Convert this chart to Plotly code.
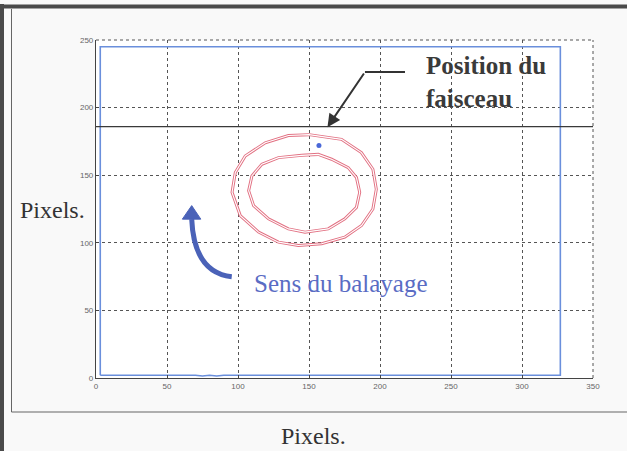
import plotly.graph_objects as go

# ---------------- data ----------------
scan_x = [3, 3, 327, 327, 90, 85, 80, 75, 70, 3]
scan_y = [2, 245, 245, 2, 2, 1.5, 2, 1.5, 2, 2]

beam_y = 186

outer_x = [150, 172.9, 186.9, 195, 197.4, 195, 187, 175.2, 158.9, 142.5, 128.5, 114.5, 101.6, 95.8, 98.1, 105.1, 119.2, 135.5, 150]
outer_y = [180, 176.5, 166.7, 154.4, 139.7, 125, 112.8, 104.2, 99.3, 98, 100.5, 107.9, 120.1, 137.3, 152, 164.2, 174, 179.4, 180]

inner_x = [144.9, 156.5, 165.9, 177.6, 183.4, 185.7, 183.4, 175.2, 163.5, 147.2, 135.5, 121.5, 111, 107.5, 109.8, 116.8, 128.5, 144.9]
inner_y = [164.7, 165.4, 161.8, 155.6, 148.3, 137.3, 126.2, 117.7, 110.3, 107.9, 110.3, 117.7, 127.5, 138.5, 149.5, 158.1, 163, 164.7]

dot_x = [157]
dot_y = [172]

x_ticks = [0, 50, 100, 150, 200, 250, 300, 350]
y_ticks = [0, 50, 100, 150, 200, 250]

# ---------------- layout constants ----------------
W, H = 627, 451
ML, MR, MT, MB = 96, 34, 40, 73
PW, PH = W - ML - MR, H - MT - MB


def px(xp):
    return (xp - ML) / PW


def py(yp):
    return (H - MB - yp) / PH


fig = go.Figure()

red = "#e27082"
for cx, cy in [(outer_x, outer_y), (inner_x, inner_y)]:
    fig.add_trace(go.Scatter(x=cx, y=cy, mode="lines",
                             line=dict(color=red, width=3.0), hoverinfo="skip"))
    fig.add_trace(go.Scatter(x=cx, y=cy, mode="lines",
                             line=dict(color="white", width=1.1), hoverinfo="skip"))

fig.add_trace(go.Scatter(x=scan_x, y=scan_y, mode="lines",
                         line=dict(color="#6a8fdc", width=1.6), hoverinfo="skip"))
fig.add_trace(go.Scatter(x=[0, 350], y=[beam_y, beam_y], mode="lines",
                         line=dict(color="#3a3a3a", width=1.3), hoverinfo="skip"))
fig.add_trace(go.Scatter(x=dot_x, y=dot_y, mode="markers",
                         marker=dict(color="#4a68d8", size=5), hoverinfo="skip"))

grid_line = dict(color="#555555", width=1, dash="3px,3px")

shapes = []
# dashed grid lines on the top and right edges of the plot area
shapes.append(dict(type="line", xref="paper", yref="paper", x0=0, x1=1, y0=1, y1=1, line=grid_line, layer="below"))
shapes.append(dict(type="line", xref="paper", yref="paper", x0=1, x1=1, y0=0, y1=1, line=grid_line, layer="below"))
# outer frame decorations
shapes.append(dict(type="line", xref="paper", yref="paper", x0=px(2), x1=px(2), y0=py(451), y1=py(4),
                   line=dict(color="#4a4a4a", width=4)))
shapes.append(dict(type="line", xref="paper", yref="paper", x0=px(0), x1=px(627), y0=py(6.5), y1=py(6.5),
                   line=dict(color="#4a4a4a", width=4)))
shapes.append(dict(type="line", xref="paper", yref="paper", x0=px(11.5), x1=px(11.5), y0=py(412), y1=py(9),
                   line=dict(color="#666666", width=1)))
shapes.append(dict(type="line", xref="paper", yref="paper", x0=px(11.5), x1=px(627), y0=py(412), y1=py(412),
                   line=dict(color="#666666", width=1.2)))
# horizontal part of the "Position du faisceau" leader
shapes.append(dict(type="line", xref="x", yref="y", x0=189.4, x1=217.6, y0=226.3, y1=226.3,
                   line=dict(color="#333333", width=2)))
# curved "Sens du balayage" arrow
shapes.append(dict(type="path", xref="x", yref="y",
                   path="M 95.6,74.9 Q 69,78 67.4,117.5",
                   line=dict(color="#4a62b8", width=5)))
shapes.append(dict(type="path", xref="x", yref="y",
                   path="M 60.8,117.5 L 67.4,127.5 L 73.8,117.5 Z",
                   fillcolor="#4a62b8", line=dict(color="#4a62b8", width=1)))

annotations = [
    dict(x=163, y=185.5, xref="x", yref="y", ax=189.4, ay=226.3, axref="x", ayref="y",
         showarrow=True, arrowhead=2, arrowsize=1.3, arrowwidth=2, arrowcolor="#333333", text=""),
    dict(x=px(424), y=py(82), xref="paper", yref="paper", xanchor="left", yanchor="middle",
         text="<b>Position du</b><br><b>faisceau</b>", align="left", showarrow=False,
         font=dict(family="Liberation Serif", size=25, color="#3a3a3a")),
    dict(x=px(252), y=py(283), xref="paper", yref="paper", xanchor="left", yanchor="middle",
         text="Sens du balayage", showarrow=False,
         font=dict(family="Liberation Serif", size=25, color="#5a6cc4")),
    dict(x=px(18), y=py(210), xref="paper", yref="paper", xanchor="left", yanchor="middle",
         text="Pixels.", showarrow=False,
         font=dict(family="Liberation Serif", size=24, color="#333333")),
    dict(x=px(313), y=py(436), xref="paper", yref="paper", xanchor="center", yanchor="middle",
         text="Pixels.", showarrow=False,
         font=dict(family="Liberation Serif", size=24, color="#333333")),
]

axis_common = dict(
    showgrid=True, gridcolor="#555555", griddash="3px,3px", gridwidth=1,
    zeroline=False, showline=True, linecolor="#444444", linewidth=1.2,
    ticks="inside", ticklen=3, tickcolor="#444444",
    tickfont=dict(family="Liberation Sans", size=8, color="#666666"),
    fixedrange=True,
)

fig.update_layout(
    width=W, height=H,
    margin=dict(l=ML, r=MR, t=MT, b=MB),
    paper_bgcolor="#f9f9f9", plot_bgcolor="white",
    showlegend=False,
    shapes=shapes, annotations=annotations,
    xaxis=dict(range=[0, 350], tickvals=x_ticks, ticktext=[str(v) for v in x_ticks], **axis_common),
    yaxis=dict(range=[0, 250], tickvals=y_ticks, ticktext=[str(v) for v in y_ticks], **axis_common),
)

fig.write_html(
    "out.html",
    config={"displayModeBar": False},
    post_script="document.body.style.margin='0';document.body.style.overflow='hidden';",
)
